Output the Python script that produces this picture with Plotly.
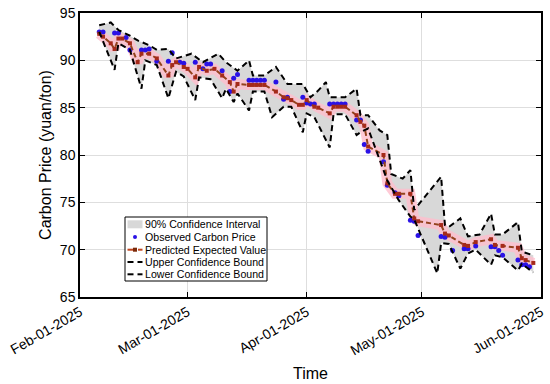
import plotly.graph_objects as go

# ---------------- data ----------------
obs_dates = ["2025-02-06","2025-02-07","2025-02-10","2025-02-11","2025-02-13","2025-02-14","2025-02-17","2025-02-18","2025-02-19","2025-02-21",
             "2025-02-24","2025-02-25","2025-02-27","2025-02-28","2025-03-03","2025-03-05","2025-03-06","2025-03-07","2025-03-10","2025-03-12",
             "2025-03-13","2025-03-14","2025-03-17","2025-03-18","2025-03-19","2025-03-20","2025-03-21","2025-03-24","2025-03-26","2025-03-27",
             "2025-03-31","2025-04-01","2025-04-02","2025-04-03","2025-04-07","2025-04-08","2025-04-09","2025-04-10","2025-04-11","2025-04-14",
             "2025-04-15","2025-04-16","2025-04-17","2025-04-21","2025-04-22","2025-04-24","2025-04-25","2025-04-28","2025-04-29","2025-04-30",
             "2025-05-06","2025-05-07","2025-05-09","2025-05-12","2025-05-13","2025-05-15","2025-05-19","2025-05-20","2025-05-21","2025-05-22",
             "2025-05-26","2025-05-27","2025-05-28","2025-05-29"]
obs_values = [93.0,93.0,92.9,92.9,92.4,91.1,91.1,91.1,91.2,89.9,
              89.9,90.8,89.8,89.7,89.8,89.1,89.6,89.6,88.9,86.7,
              88.1,88.5,87.9,87.9,87.9,87.9,87.9,87.7,85.9,86.1,
              86.1,85.5,85.4,85.4,85.4,85.4,85.4,85.4,85.4,83.7,
              83.7,81.1,80.4,79.3,76.8,76.0,75.7,73.1,73.0,71.5,
              71.4,71.3,69.9,70.1,70.1,70.4,70.3,70.3,69.9,69.4,
              68.9,68.4,68.4,68.2]

pred_dates = ["2025-02-06","2025-02-07","2025-02-09","2025-02-10","2025-02-11","2025-02-12","2025-02-14","2025-02-16","2025-02-17","2025-02-19",
              "2025-02-21","2025-02-24","2025-02-25","2025-02-26","2025-02-28","2025-03-01","2025-03-03","2025-03-04","2025-03-06","2025-03-08",
              "2025-03-10","2025-03-12","2025-03-13","2025-03-14","2025-03-17","2025-03-18","2025-03-19","2025-03-20","2025-03-21","2025-03-24",
              "2025-03-26","2025-03-27","2025-03-28","2025-03-30","2025-03-31","2025-04-01","2025-04-03","2025-04-04","2025-04-07","2025-04-08",
              "2025-04-09","2025-04-10","2025-04-11","2025-04-14","2025-04-15","2025-04-16","2025-04-17","2025-04-21","2025-04-22","2025-04-24",
              "2025-04-25","2025-04-28","2025-04-29","2025-04-30","2025-05-06","2025-05-07","2025-05-08","2025-05-12","2025-05-13","2025-05-15",
              "2025-05-19","2025-05-20","2025-05-22","2025-05-26","2025-05-27","2025-05-28","2025-05-30"]
pred_values = [92.8,92.5,91.8,91.2,92.3,92.3,91.8,89.8,90.7,90.7,
               90.2,88.4,89.5,89.8,89.3,89.1,88.2,89.3,88.9,89.1,
               88.4,87.7,86.7,87.5,87.4,87.4,87.4,87.4,87.4,86.7,
               86.1,86.0,85.8,85.3,85.3,85.8,85.1,85.0,84.4,85.1,
               85.1,85.1,85.1,84.2,83.5,83.1,80.9,80.0,77.0,75.9,
               75.9,75.9,73.3,73.0,72.6,71.7,71.5,70.5,70.4,70.8,
               71.1,70.5,70.4,70.2,69.1,68.9,68.6]

upper_dates = ["2025-02-06","2025-02-09","2025-02-11","2025-02-14","2025-02-16","2025-02-19","2025-02-21","2025-02-24","2025-02-26","2025-03-02",
               "2025-03-05","2025-03-09","2025-03-11","2025-03-14","2025-03-17","2025-03-18","2025-03-21","2025-03-24","2025-03-27","2025-03-31",
               "2025-04-02","2025-04-04","2025-04-06","2025-04-07","2025-04-11","2025-04-14","2025-04-15","2025-04-17","2025-04-20","2025-04-22",
               "2025-04-23","2025-04-26","2025-04-28","2025-04-29","2025-05-06","2025-05-07","2025-05-08","2025-05-11","2025-05-13","2025-05-16",
               "2025-05-19","2025-05-20","2025-05-22","2025-05-26","2025-05-27","2025-05-30"]
upper_values = [93.7,94.0,93.2,92.6,92.1,91.6,91.1,91.2,90.2,90.7,
                89.8,90.7,89.8,88.9,90.0,88.4,88.4,89.3,87.5,87.5,
                86.1,86.8,87.7,86.1,86.1,87.0,84.2,84.2,82.6,82.1,
                78.0,77.5,78.4,74.2,77.7,72.6,72.4,73.3,71.4,71.6,
                73.8,71.6,71.6,72.9,69.8,69.4]

lower_dates = ["2025-02-06","2025-02-10","2025-02-11","2025-02-14","2025-02-17","2025-02-18","2025-02-21","2025-02-24","2025-02-26","2025-02-28",
               "2025-03-03","2025-03-04","2025-03-07","2025-03-10","2025-03-11","2025-03-13","2025-03-14","2025-03-17","2025-03-18","2025-03-21",
               "2025-03-23","2025-03-26","2025-03-28","2025-03-31","2025-04-01","2025-04-03","2025-04-07","2025-04-08","2025-04-11","2025-04-14",
               "2025-04-15","2025-04-17","2025-04-21","2025-04-22","2025-04-25","2025-04-28","2025-04-29","2025-05-05","2025-05-06","2025-05-08",
               "2025-05-11","2025-05-13","2025-05-15","2025-05-19","2025-05-20","2025-05-22","2025-05-26","2025-05-27","2025-05-30"]
lower_values = [93.0,89.0,91.8,91.1,87.0,90.0,89.5,86.0,88.8,88.3,
                85.8,88.2,88.0,86.0,87.0,85.6,86.5,84.7,86.7,86.7,
                84.0,85.1,85.1,82.4,84.4,84.0,80.8,84.3,84.3,82.1,
                82.4,82.8,78.4,77.3,75.2,73.5,73.2,67.5,70.7,70.6,
                68.0,69.6,70.0,68.4,69.4,69.2,67.8,68.5,67.6]

tick_dates = ["2025-02-01","2025-03-01","2025-04-01","2025-05-01","2025-06-01"]
tick_labels = ["Feb-01-2025","Mar-01-2025","Apr-01-2025","May-01-2025","Jun-01-2025"]

legend_labels = ["90% Confidence Interval","Observed Carbon Price","Predicted Expected Value",
                 "Upper Confidence Bound","Lower Confidence Bound"]

# ---------------- style ----------------
FONT = "Liberation Sans, Arial, Helvetica, sans-serif"
W, H = 550, 384
L, R, T, B = 80, 9, 13, 87
PW, PH = W - L - R, H - T - B
GRAY = "rgb(216,216,216)"
PINK = "rgba(255,190,205,0.8)"
PRED = "#93421C"
OBS = "#2A12E6"

def px_x(x):
    return (x - L) / PW

def px_y(y):
    return (H - B - y) / PH

fig = go.Figure()

# confidence band
fig.add_trace(go.Scatter(
    x=upper_dates + lower_dates[::-1],
    y=upper_values + lower_values[::-1],
    fill="toself", fillcolor=GRAY, line=dict(width=0),
    mode="lines", hoverinfo="skip", showlegend=False))

# pink halo around prediction
fig.add_trace(go.Scatter(x=pred_dates, y=pred_values, mode="lines",
                         line=dict(color=PINK, width=10), showlegend=False, hoverinfo="skip"))

fig.add_trace(go.Scatter(x=obs_dates, y=obs_values, mode="markers",
                         marker=dict(color=OBS, size=5), showlegend=False))

fig.add_trace(go.Scatter(x=pred_dates, y=pred_values, mode="lines+markers",
                         line=dict(color=PRED, width=2, dash="5px,3px"),
                         marker=dict(symbol="square", size=4, color="#A52A1A"), showlegend=False))

for d, v in ((upper_dates, upper_values), (lower_dates, lower_values)):
    fig.add_trace(go.Scatter(x=d, y=v, mode="lines",
                             line=dict(color="black", width=2, dash="6px,4px"), showlegend=False))

# ---------------- manual legend ----------------
shapes = []
annotations = []
bx0, bx1, by0, by1 = 125, 267, 217, 281
shapes.append(dict(type="rect", xref="paper", yref="paper",
                   x0=px_x(bx0), x1=px_x(bx1), y0=px_y(by1), y1=px_y(by0),
                   line=dict(color="black", width=1), fillcolor="white", layer="above"))
rows = [224.3, 237.0, 249.7, 262.0, 274.3]
sx0, sx1 = 127.5, 142.5
cx = (sx0 + sx1) / 2
shapes.append(dict(type="rect", xref="paper", yref="paper",
                   x0=px_x(sx0), x1=px_x(sx1), y0=px_y(rows[0] + 4), y1=px_y(rows[0] - 4),
                   line=dict(width=0), fillcolor=GRAY, layer="above"))
shapes.append(dict(type="circle", xref="paper", yref="paper",
                   x0=px_x(cx - 2), x1=px_x(cx + 2), y0=px_y(rows[1] + 2), y1=px_y(rows[1] - 2),
                   line=dict(width=0), fillcolor=OBS, layer="above"))
shapes.append(dict(type="line", xref="paper", yref="paper",
                   x0=px_x(sx0), x1=px_x(cx), y0=px_y(rows[2]), y1=px_y(rows[2]),
                   line=dict(color="#C0451E", width=2), layer="above"))
shapes.append(dict(type="line", xref="paper", yref="paper",
                   x0=px_x(cx + 3), x1=px_x(sx1), y0=px_y(rows[2]), y1=px_y(rows[2]),
                   line=dict(color="#C0451E", width=2), layer="above"))
shapes.append(dict(type="rect", xref="paper", yref="paper",
                   x0=px_x(cx - 2), x1=px_x(cx + 2), y0=px_y(rows[2] + 2), y1=px_y(rows[2] - 2),
                   line=dict(width=0), fillcolor="#7a2a0a", layer="above"))
for r in rows[3:]:
    shapes.append(dict(type="line", xref="paper", yref="paper",
                       x0=px_x(sx0), x1=px_x(sx0 + 6), y0=px_y(r), y1=px_y(r),
                       line=dict(color="black", width=2), layer="above"))
    shapes.append(dict(type="line", xref="paper", yref="paper",
                       x0=px_x(sx0 + 10), x1=px_x(sx1), y0=px_y(r), y1=px_y(r),
                       line=dict(color="black", width=2), layer="above"))
for r, lab in zip(rows, legend_labels):
    annotations.append(dict(xref="paper", yref="paper", x=px_x(142.5), y=px_y(r),
                            xanchor="left", yanchor="middle", text=lab, showarrow=False,
                            font=dict(family=FONT, size=10.6, color="black")))

fig.update_layout(
    width=W, height=H,
    margin=dict(l=L, r=R, t=T, b=B, autoexpand=False),
    paper_bgcolor="white", plot_bgcolor="white",
    font=dict(family=FONT, size=14, color="black"),
    shapes=shapes, annotations=annotations,
    showlegend=False, hovermode=False,
)
fig.update_xaxes(type="date", range=[tick_dates[0], tick_dates[-1]],
                 tickvals=tick_dates, ticktext=tick_labels, tickangle=-30,
                 showgrid=True, gridcolor="rgb(222,222,222)", gridwidth=1.3,
                 showline=True, linecolor="black", linewidth=1.5, mirror="ticks",
                 ticks="inside", ticklen=5, tickcolor="black", tickwidth=1,
                 zeroline=False, tickfont=dict(size=14), automargin=False,
                 title=dict(text="Time", font=dict(size=16), standoff=10))
fig.update_yaxes(range=[65, 95], dtick=5, tick0=65,
                 showgrid=True, gridcolor="rgb(222,222,222)", gridwidth=1.3,
                 showline=True, linecolor="black", linewidth=1.5, mirror="ticks",
                 ticks="inside", ticklen=5, tickcolor="black", tickwidth=1,
                 zeroline=False, tickfont=dict(size=14), automargin=False,
                 title=dict(text="Carbon Price (yuan/ton)", font=dict(size=16), standoff=4))

fig.write_html("out.html", config={"displayModeBar": False},
               post_script="document.body.style.margin='0';document.body.style.padding='0';")
